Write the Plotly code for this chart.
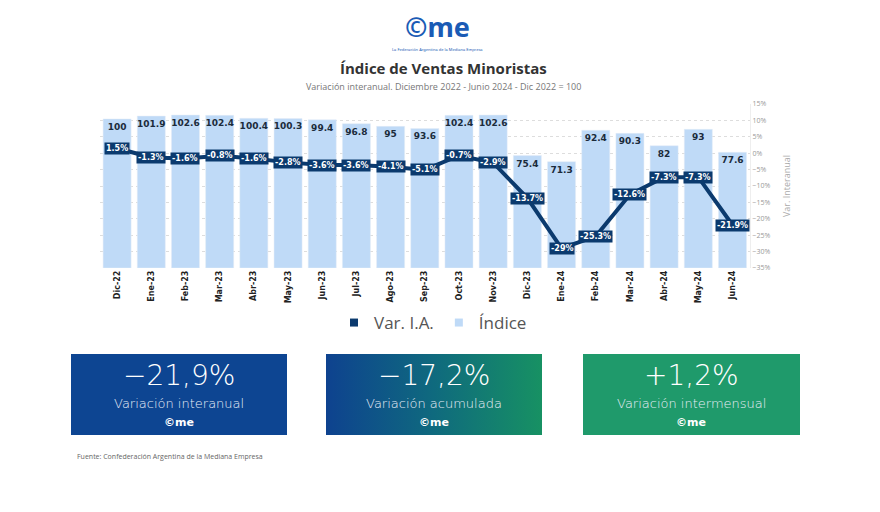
import plotly.graph_objects as go

# data
meses = ["Dic-22", "Ene-23", "Feb-23", "Mar-23", "Abr-23", "May-23", "Jun-23", "Jul-23",
         "Ago-23", "Sep-23", "Oct-23", "Nov-23", "Dic-23", "Ene-24", "Feb-24", "Mar-24",
         "Abr-24", "May-24", "Jun-24"]
indice = [100, 101.9, 102.6, 102.4, 100.4, 100.3, 99.4, 96.8, 95, 93.6, 102.4, 102.6,
          75.4, 71.3, 92.4, 90.3, 82, 93, 77.6]
var_ia = [1.5, -1.3, -1.6, -0.8, -1.6, -2.8, -3.6, -3.6, -4.1, -5.1, -0.7, -2.9,
          -13.7, -29, -25.3, -12.6, -7.3, -7.3, -21.9]

kpi_valores = ["\u221221,9%", "\u221217,2%", "+1,2%"]
kpi_textos = ["Variación interanual", "Variación acumulada", "Variación intermensual"]

W, H = 880, 512
OFF = 8  # page body margin
NAVY = "#0b3a6e"
BAR = "#bfdaf7"


def px(x):
    return (x - OFF) / W


def py(y):
    return 1 - (y - OFF) / H


def label(x, y, text, size, color, family="Open Sans", anchor="center", **kw):
    fig.add_annotation(x=px(x), y=py(y), xref="paper", yref="paper", text=text, showarrow=False,
                       xanchor=anchor, yanchor="middle",
                       font=dict(size=size, color=color, family=family, **kw))


fig = go.Figure()

fig.add_trace(go.Bar(
    x=meses, y=indice, name="Índice", marker_color=BAR, showlegend=False,
    text=[str(v) for v in indice], textposition="inside", insidetextanchor="end",
    textangle=0, constraintext="none",
    textfont=dict(size=9, color="#1b2b3b", family="DejaVu Sans", weight=700),
))
fig.add_trace(go.Scatter(
    x=meses, y=var_ia, yaxis="y2", mode="lines", name="Var. I.A.",
    line=dict(color=NAVY, width=4), showlegend=False,
))
# legend entries as small squares
fig.add_trace(go.Scatter(x=[None], y=[None], mode="markers", name="Var. I.A.",
                         marker=dict(symbol="square", size=8, color=NAVY)))
fig.add_trace(go.Scatter(x=[None], y=[None], mode="markers", name="Índice",
                         marker=dict(symbol="square", size=8, color=BAR)))

# labels of the line
for m, v in zip(meses, var_ia):
    fig.add_annotation(x=m, y=v, xref="x", yref="y2", text=f"<b>{v:g}%</b>",
                       showarrow=False, bgcolor=NAVY, borderpad=1,
                       font=dict(size=8, color="white", family="DejaVu Sans"))

# gradient box (middle KPI) on a full-figure overlay axis
fig.add_trace(go.Scatter(
    x=[326, 542, 542, 326, 326], y=[354, 354, 435, 435, 354], xaxis="x3", yaxis="y3",
    mode="lines", line=dict(width=0), fill="toself", hoverinfo="skip", showlegend=False,
    fillgradient=dict(type="horizontal", colorscale=[[0, "#0e428f"], [0.5, "#0f6a7e"], [1, "#179163"]]),
))

fig.add_shape(type="rect", xref="paper", yref="paper", x0=px(71), x1=px(287), y0=py(354), y1=py(435),
              fillcolor="#0d4592", line_width=0, layer="below")
fig.add_shape(type="rect", xref="paper", yref="paper", x0=px(583), x1=px(800), y0=py(354), y1=py(435),
              fillcolor="#1f9a6b", line_width=0, layer="below")

for cx, val, txt in zip([179, 434, 691], kpi_valores, kpi_textos):
    label(cx, 375, val, 28, "white", "DejaVu Sans", weight=300)
    label(cx, 403, txt, 13, "#e8eef8", "DejaVu Sans", weight=300)
    label(cx, 422, "<b>©me</b>", 11, "white", "DejaVu Sans")

# header
label(437, 26, "<b>©me</b>", 27, "#1a5bb5", "Noto Sans")
label(437, 49, "La Federación Argentina de la Mediana Empresa", 4, "#1a5bb5", "Noto Sans")
label(443, 68, "<b>Índice de Ventas Minoristas</b>", 15, "#333333")
label(443, 86, "Variación interanual. Diciembre 2022 - Junio 2024 - Dic 2022 = 100", 9, "#777777")
label(75, 456, "Fuente: Confederación Argentina de la Mediana Empresa", 7, "#666666", anchor="left")

fig.update_layout(
    width=W, height=H, margin=dict(l=0, r=0, t=0, b=0),
    paper_bgcolor="white", plot_bgcolor="rgba(0,0,0,0)",
    bargap=0.18,
    xaxis=dict(domain=[px(100), px(750)], tickangle=-90, showgrid=False, showline=False, ticks="",
               automargin=False,
               tickfont=dict(size=8, color="#222222", family="DejaVu Sans", weight=700)),
    yaxis=dict(domain=[py(268), py(104)], range=[0, 110], visible=False),
    yaxis2=dict(overlaying="y", side="right", range=[-35, 15], dtick=5, ticksuffix="%",
                showgrid=True, gridcolor="#dddddd", griddash="dot", zeroline=False,
                showline=True, linecolor="#eeeeee", automargin=False,
                tickfont=dict(size=7, color="#999999", family="Open Sans"),
                title=dict(text="Var. Interanual", font=dict(size=9, color="#aaaaaa", family="Open Sans"),
                           standoff=14)),
    xaxis3=dict(domain=[0, 1], range=[OFF, W + OFF], visible=False, anchor="y3"),
    yaxis3=dict(domain=[0, 1], range=[H + OFF, OFF], visible=False, anchor="x3"),
    legend=dict(orientation="h", x=px(433), xanchor="center", y=py(323), yanchor="middle",
                font=dict(size=17, color="#555555", family="Open Sans"), itemwidth=30,
                bgcolor="rgba(0,0,0,0)"),
)

fig.write_html("out.html")
